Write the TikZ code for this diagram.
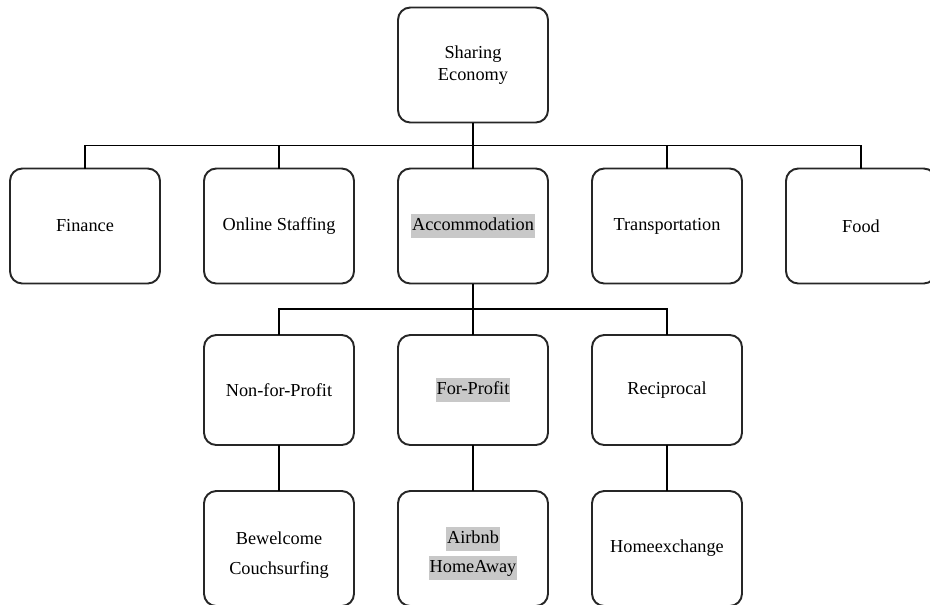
\documentclass[tikz,border=0pt]{standalone}
\usepackage{fontspec}
\setmainfont{Liberation Serif}
\usetikzlibrary{positioning, calc}
\definecolor{hlgray}{RGB}{200,200,200}
\newcommand{\hl}[1]{{\setlength{\fboxsep}{0.6pt}\colorbox{hlgray}{\strut #1}}}

\begin{document}
\begin{tikzpicture}[
  font=\fontsize{10.4}{12.5}\selectfont,
  box/.style={draw=black!85, line width=1.1pt, rounded corners=7pt, minimum width=3cm, minimum height=2.3cm, align=center, inner sep=3pt, outer sep=0pt},
  link/.style={line width=1.1pt, draw=black}
]
\useasboundingbox (0,0) rectangle (18.6,-12.08);

% === ROOT ===
\node[box] (root) at (9.46,-1.3) {Sharing\\Economy};

% === SECTORS ===
\node[box] (acc) at (9.46,-4.52) {\hl{Accommodation}};
\node[box, left=0.88cm of acc]   (staff) {Online Staffing};
\node[box, left=0.88cm of staff] (fin)   {Finance};
\node[box, right=0.88cm of acc]  (trans) {Transportation};
\node[box, right=0.88cm of trans] (food) {Food};

% === ACCOMMODATION TYPES ===
\node[box, minimum height=2.2cm, below=1.03cm of acc]  (forprofit) {\hl{For-Profit}};
\node[box, minimum height=2.2cm, left=0.88cm of forprofit]  (nonprofit) {Non-for-Profit};
\node[box, minimum height=2.2cm, right=0.88cm of forprofit] (recip) {Reciprocal};

% === EXAMPLES ===
\node[box, below=0.92cm of nonprofit] (couch) {\\[2.7pt]Bewelcome\\[4.5pt]Couchsurfing};
\node[box, below=0.92cm of forprofit] (airbnb) {\\[2.7pt]\hl{Airbnb}\\[2pt]\hl{HomeAway}};
\node[box, below=0.92cm of recip]     (homex) {Homeexchange};

% === CONNECTORS ===
\coordinate (bus1) at ($(root.south)!0.5!(acc.north)$);
\coordinate (bus2) at ($(acc.south)!0.5!(forprofit.north)$);

\draw[link] (root.south) -- (acc.north);
\foreach \n in {fin, staff, trans, food}
  \draw[link] (bus1) -| (\n.north);

\draw[link] (acc.south) -- (forprofit.north);
\foreach \n in {nonprofit, recip}
  \draw[link] (bus2) -| (\n.north);

\draw[link] (nonprofit) -- (couch);
\draw[link] (forprofit) -- (airbnb);
\draw[link] (recip) -- (homex);

\end{tikzpicture}
\end{document}
